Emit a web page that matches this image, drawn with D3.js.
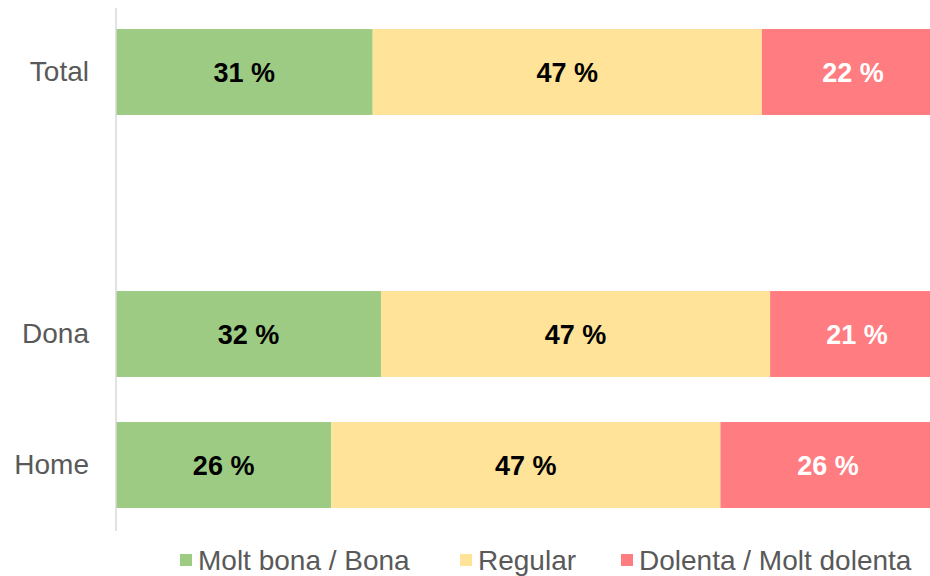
<!DOCTYPE html>
<html><head><meta charset="utf-8">
<script src="https://cdn.jsdelivr.net/npm/d3@7"></script>
<style>html,body{margin:0;padding:0;background:#fff;overflow:hidden}</style>
</head><body>
<svg id="c" width="930" height="576"></svg>
<script>
const categories = ["Total", "", "Dona", "Home"];
const seriesNames = ["Molt bona / Bona", "Regular", "Dolenta / Molt dolenta"];
const bona = [31, null, 32, 26];
const regular = [47, null, 47, 47];
const dolenta = [22, null, 21, 26];
const colors = ["#9dcb84", "#ffe398", "#ff7c80"];
const labelColors = ["#000000", "#000000", "#ffffff"];

const svg = d3.select("#c");
const FONT = "Liberation Sans, Arial, sans-serif";
const x0 = 116;
const x = d3.scaleLinear().domain([0, 100]).range([x0, x0 + 828]);
const y = d3.scaleBand().domain(categories).range([6.5, 530.5]).paddingInner(0.344).paddingOuter(0.172);

const seriesVals = [bona, regular, dolenta];
const rows = categories.map((c, i) => {
  let cum = 0;
  return seriesVals.map((s, k) => {
    const v = s[i];
    const seg = {cat: c, k, v, x0: cum, x1: cum + (v || 0)};
    cum += (v || 0);
    return seg;
  }).filter(d => d.v != null);
}).flat();

svg.append("g").selectAll("rect").data(rows).join("rect")
  .attr("x", d => x(d.x0)).attr("width", d => x(d.x1) - x(d.x0))
  .attr("y", d => y(d.cat)).attr("height", y.bandwidth())
  .attr("fill", d => colors[d.k]);

svg.append("g").selectAll("text").data(rows).join("text")
  .attr("x", d => (x(d.x0) + x(d.x1)) / 2)
  .attr("y", d => y(d.cat) + y.bandwidth() / 2)
  .attr("dy", "0.36em").attr("text-anchor", "middle")
  .attr("font-family", FONT).attr("font-weight", "bold").attr("font-size", 27)
  .attr("fill", d => labelColors[d.k])
  .text(d => d.v + " %");

// y axis
const yAxis = d3.axisLeft(y).tickSize(0).tickPadding(27);
const ga = svg.append("g").attr("transform", `translate(${x0},0)`).call(yAxis);
ga.select(".domain").attr("stroke", "#d9d9d9").attr("stroke-width", 1.5).attr("d", "M0,8V531");
ga.selectAll("text").attr("font-family", FONT).attr("font-size", 28).attr("fill", "#595959");

// legend
const lg = svg.append("g");
const legendX = [180, 460, 621];
seriesNames.forEach((n, k) => {
  lg.append("rect").attr("x", legendX[k]).attr("y", 554).attr("width", 12).attr("height", 12).attr("fill", colors[k]);
  lg.append("text").attr("x", legendX[k] + 18).attr("y", 560).attr("dy", "0.36em")
    .attr("font-family", FONT).attr("font-size", 28).attr("fill", "#595959").text(n);
});
</script>
</body></html>
